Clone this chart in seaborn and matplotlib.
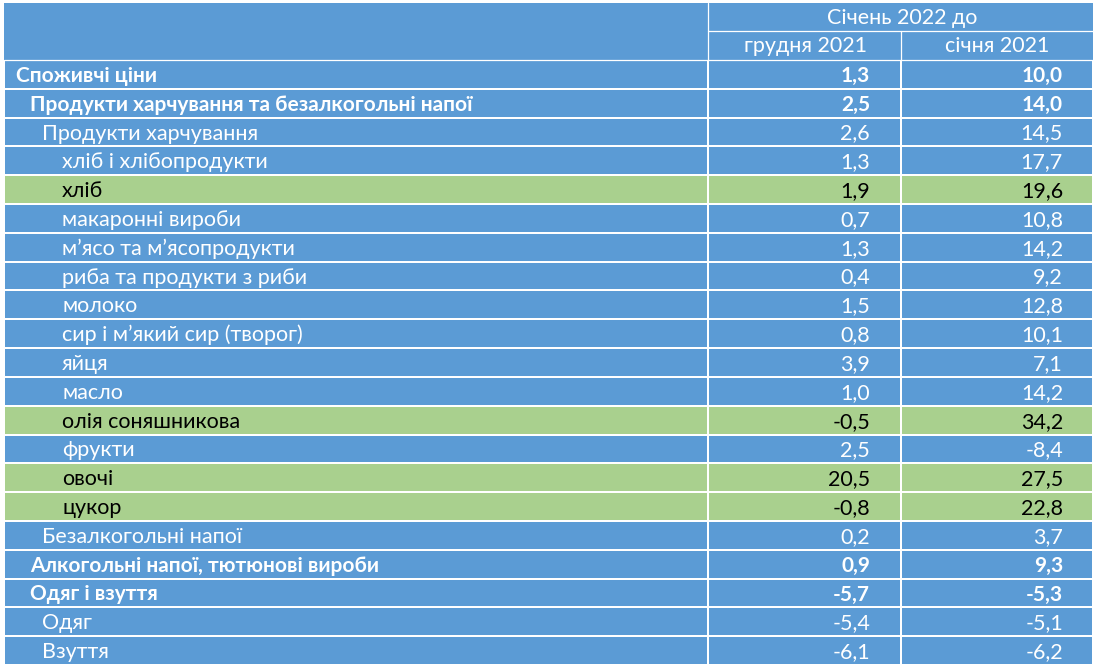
import numpy as np
import matplotlib
matplotlib.use("Agg")
import matplotlib.pyplot as plt
from matplotlib.colors import ListedColormap
from matplotlib.patches import Rectangle
import seaborn as sns

labels = ["Споживчі ціни", "Продукти харчування та безалкогольні напої",
          "Продукти харчування", "хліб і хлібопродукти", "хліб",
          "макаронні вироби", "м’ясо та м’ясопродукти", "риба та продукти з риби",
          "молоко", "сир і м’який сир (творог)", "яйця", "масло",
          "олія соняшникова", "фрукти", "овочі", "цукор", "Безалкогольні напої",
          "Алкогольні напої, тютюнові вироби", "Одяг і взуття", "Одяг", "Взуття"]
levels = [0, 1, 2, 3, 3, 3, 3, 3, 3, 3, 3, 3, 3, 3, 3, 3, 2, 1, 1, 2, 2]
vs_dec2021 = [1.3, 2.5, 2.6, 1.3, 1.9, 0.7, 1.3, 0.4, 1.5, 0.8, 3.9, 1.0,
              -0.5, 2.5, 20.5, -0.8, 0.2, 0.9, -5.7, -5.4, -6.1]
vs_jan2021 = [10.0, 14.0, 14.5, 17.7, 19.6, 10.8, 14.2, 9.2, 12.8, 10.1, 7.1, 14.2,
              34.2, -8.4, 27.5, 22.8, 3.7, 9.3, -5.3, -5.1, -6.2]
highlighted = ["хліб", "олія соняшникова", "овочі", "цукор"]
header_top = "Січень 2022 до"
header_cols = ["грудня 2021", "січня 2021"]

BLUE = "#5B9BD5"
GREEN = "#A9D08E"

sns.set_theme(style="white")
plt.rcParams["font.family"] = ["Lato", "DejaVu Sans"]

W, H = 1097, 665
fig = plt.figure(figsize=(W / 100, H / 100), dpi=100)

left, d1, d2, right = 4, 708, 901, 1093
top, hmid, hbot, bottom = 3, 31, 60, 665
n = len(labels)
rh = (bottom - hbot) / n

def px_axes(x0, y0, x1, y1):
    return fig.add_axes([x0 / W, 1 - y1 / H, (x1 - x0) / W, (y1 - y0) / H])

# header background
bg = fig.add_axes([0, 0, 1, 1])
bg.set_xlim(0, W)
bg.set_ylim(H, 0)
bg.axis("off")
bg.add_patch(Rectangle((left, top), right - left, hbot - top, color=BLUE, lw=0))

# body cells, one heatmap per column
codes = np.array([[1 if lab in highlighted else 0] for lab in labels])
cmap = ListedColormap([BLUE, GREEN])
for x0, x1 in [(left, d1), (d1, d2), (d2, right)]:
    ax = px_axes(x0, hbot, x1, bottom)
    sns.heatmap(codes, ax=ax, cmap=cmap, vmin=0, vmax=1, cbar=False,
                linewidths=1.2, linecolor="white",
                xticklabels=False, yticklabels=False)

# overlay for text and header lines
ov = fig.add_axes([0, 0, 1, 1])
ov.set_xlim(0, W)
ov.set_ylim(H, 0)
ov.axis("off")
ov.patch.set_alpha(0)
lw = 0.9
ov.plot([left, right], [hbot, hbot], color="white", lw=lw)
ov.plot([d1, right], [hmid, hmid], color="white", lw=lw)
ov.plot([d1, d1], [top, hbot], color="white", lw=lw)
ov.plot([d2, d2], [hmid, hbot], color="white", lw=lw)

fs = 15.5
ov.text((d1 + right) / 2 + 2, (top + hmid) / 2 + 1, header_top, color="white",
        fontsize=fs, ha="center", va="center")
ov.text(806, (hmid + hbot) / 2 + 1, header_cols[0], color="white",
        fontsize=fs, ha="center", va="center")
ov.text(997, (hmid + hbot) / 2 + 1, header_cols[1], color="white",
        fontsize=fs, ha="center", va="center")

indent = {0: 16, 1: 30, 2: 42, 3: 62}
fmt = lambda v: f"{v:.1f}".replace(".", ",")
for i, lab in enumerate(labels):
    y = hbot + (i + 0.5) * rh + 1.5
    col = "black" if lab in highlighted else "white"
    bold = levels[i] <= 1
    wt = "bold" if bold else "normal"
    size = 15.0 if bold else fs
    ov.text(indent[levels[i]], y, lab, color=col, fontsize=size, fontweight=wt,
            ha="left", va="center")
    ov.text(870, y, fmt(vs_dec2021[i]), color=col, fontsize=size, fontweight=wt,
            ha="right", va="center")
    ov.text(1063, y, fmt(vs_jan2021[i]), color=col, fontsize=size, fontweight=wt,
            ha="right", va="center")

fig.savefig("out.png", dpi=100)
